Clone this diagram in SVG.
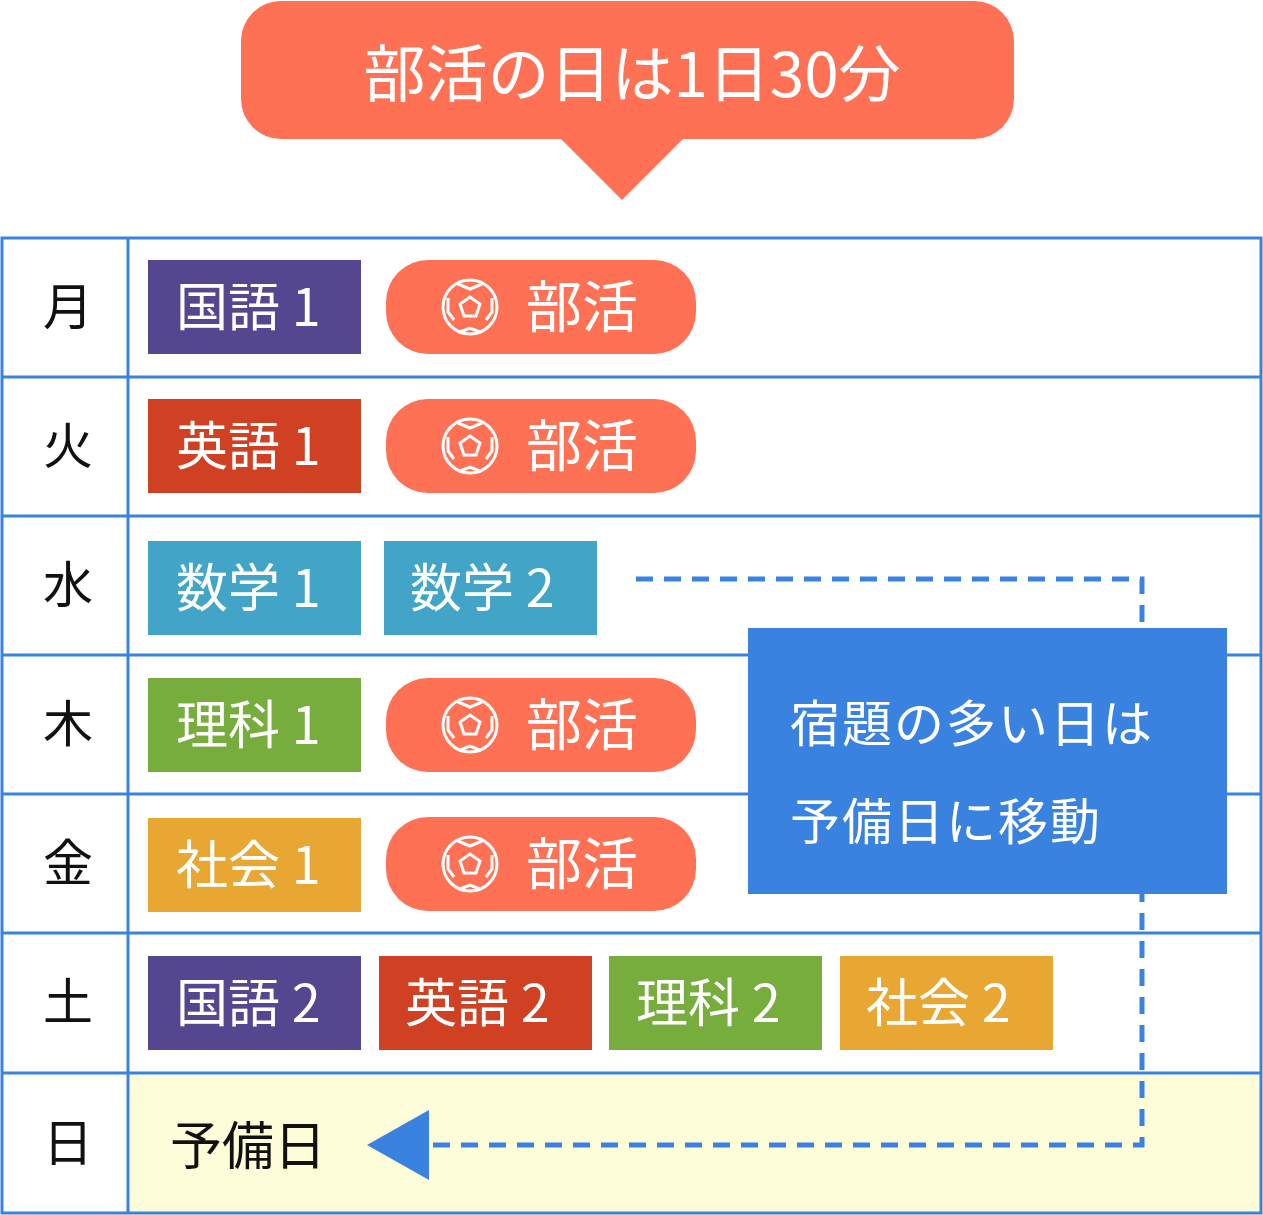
<svg xmlns="http://www.w3.org/2000/svg" width="1263" height="1215" viewBox="0 0 1263 1215">
<style>
text{font-family:"Noto Sans CJK JP","Noto Sans",sans-serif}
.day{font-size:50px;fill:#111;text-anchor:middle}
.bt{font-size:52px;fill:#fff}
.pt{font-size:56px;fill:#fff}
.grid{stroke:#3a82e0;stroke-width:3;fill:none}
.ball{fill:none;stroke:#fff;stroke-width:3}
</style>
<defs>
<g id="pill">
<rect x="0" y="0" width="310" height="94" rx="42" fill="#ff7155"/>
<circle cx="84" cy="47" r="27" class="ball"/>
<polygon points="84,37 94,44 90,56 78,56 74,44" class="ball" stroke-width="2.5"/>
<path d="M72,24 L84,29 L96,24 M106,38 L106,52 L100,60 M62,38 L62,52 L68,60 M74,72 L84,68 L94,72" class="ball" stroke-width="2.5"/>
<text x="140" y="67" class="pt">部活</text>
</g>
</defs>
<rect width="1263" height="1215" fill="#fff"/>
<g id="title">
<rect x="241" y="1" width="773" height="138" rx="40" fill="#ff7155"/>
<polygon points="560,138 684,138 622,200" fill="#ff7155"/>
<text x="632" y="97" font-size="62" fill="#fff" text-anchor="middle">部活の日は1日30分</text>
</g>
<rect x="130" y="1075" width="1130" height="137" fill="#fdfdd9"/>
<g id="table" class="grid">
<rect x="2" y="238" width="1259" height="975"/>
<line x1="128" y1="238" x2="128" y2="1213"/>
<path d="M2,377H1261M2,516H1261M2,655H1261M2,794H1261M2,933H1261M2,1073H1261"/>
</g>
<g id="days">
<text x="68" y="325" class="day">月</text>
<text x="68" y="464" class="day">火</text>
<text x="68" y="603" class="day">水</text>
<text x="68" y="742" class="day">木</text>
<text x="68" y="881" class="day">金</text>
<text x="68" y="1020" class="day">土</text>
<text x="68" y="1161" class="day">日</text>
</g>
<g id="mon"><rect x="148" y="260" width="213" height="94" fill="#55468f"/><text x="176" y="326" class="bt">国語 1</text></g>
<g id="mon-club"><use href="#pill" x="386" y="260"/></g>
<g id="tue"><rect x="148" y="399" width="213" height="94" fill="#d04123"/><text x="176" y="465" class="bt">英語 1</text></g>
<g id="tue-club"><use href="#pill" x="386" y="399"/></g>
<g id="wed1"><rect x="148" y="541" width="213" height="94" fill="#42a4c6"/><text x="176" y="607" class="bt">数学 1</text></g>
<g id="wed2"><rect x="384" y="541" width="213" height="94" fill="#42a4c6"/><text x="410" y="607" class="bt">数学 2</text></g>
<g id="thu"><rect x="148" y="678" width="213" height="94" fill="#77ad3c"/><text x="176" y="744" class="bt">理科 1</text></g>
<g id="thu-club"><use href="#pill" x="386" y="678"/></g>
<g id="fri"><rect x="148" y="818" width="213" height="94" fill="#e8a732"/><text x="176" y="884" class="bt">社会 1</text></g>
<g id="fri-club"><use href="#pill" x="386" y="817"/></g>
<g id="sat1"><rect x="148" y="956" width="213" height="94" fill="#55468f"/><text x="176" y="1022" class="bt">国語 2</text></g>
<g id="sat2"><rect x="379" y="956" width="213" height="94" fill="#d04123"/><text x="405" y="1022" class="bt">英語 2</text></g>
<g id="sat3"><rect x="609" y="956" width="213" height="94" fill="#77ad3c"/><text x="636" y="1022" class="bt">理科 2</text></g>
<g id="sat4"><rect x="840" y="956" width="213" height="94" fill="#e8a732"/><text x="866" y="1022" class="bt">社会 2</text></g>
<g id="sun"><text x="170" y="1165" font-size="52" fill="#111">予備日</text></g>
<g id="connectors">
<path d="M636,579H1142V1145H432" fill="none" stroke="#3a82e0" stroke-width="5" stroke-dasharray="17,11"/>
<polygon points="367,1145 429,1110 429,1180" fill="#3a82e0"/>
</g>
<g id="note">
<rect x="748" y="628" width="479" height="266" fill="#3a82e0"/>
<text x="790" y="742" font-size="50" fill="#fff" letter-spacing="2">宿題の多い日は</text>
<text x="790" y="840" font-size="50" fill="#fff" letter-spacing="2">予備日に移動</text>
</g>
</svg>
